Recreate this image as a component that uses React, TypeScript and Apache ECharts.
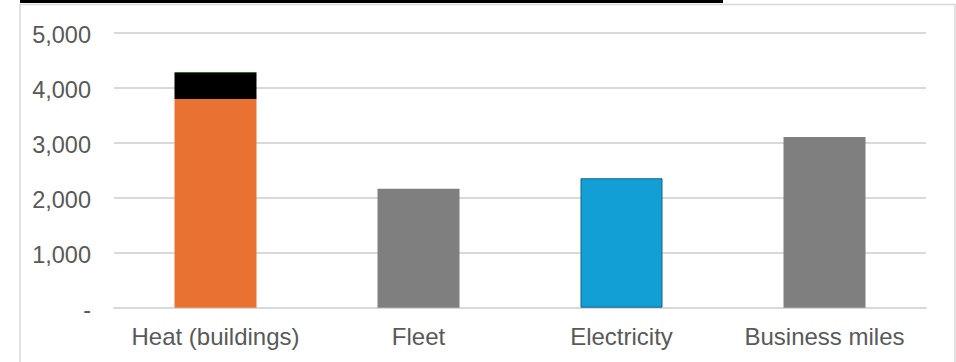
import React, { useEffect, useRef } from "react";
import * as echarts from "echarts";

// Emissions by source (tCO2e)
const categories = ["Heat (buildings)", "Fleet", "Electricity", "Business miles"];
const heatGas = [3790, "-", "-", "-"];
const heatOil = [470, "-", "-", "-"];
const heatOther = [20, "-", "-", "-"];
const otherSources = ["-", 2160, 2350, 3100];
const yTicks = [0, 1000, 2000, 3000, 4000, 5000];

const otherColours = ["#7f7f7f", "#7f7f7f", "#129fd6", "#7f7f7f"];
const otherBorders = ["#7f7f7f", "#7f7f7f", "#13648e", "#7f7f7f"];

const fmt = (v: number) => (v === 0 ? "-" : v.toLocaleString("en-US"));

export default function App() {
  const ref = useRef<HTMLDivElement>(null);

  useEffect(() => {
    if (!ref.current) return;
    const chart = echarts.init(ref.current, null, { renderer: "svg" });
    const font = "'Liberation Sans', Arial, sans-serif";
    chart.setOption({
      animation: false,
      backgroundColor: "#ffffff",
      textStyle: { fontFamily: font },
      grid: { left: 114, right: 30, top: 32.3, bottom: 54.3 },
      graphic: [
        {
          type: "rect",
          shape: { x: 20, y: 4.5, width: 935, height: 370 },
          style: { fill: "none", stroke: "#d9d9d9", lineWidth: 1.5 },
          z: 0,
        },
        {
          type: "rect",
          shape: { x: 20, y: 0, width: 703, height: 3 },
          style: { fill: "#000000" },
          z: 1,
        },
      ],
      xAxis: {
        type: "category",
        data: categories,
        axisTick: { show: false },
        axisLine: { lineStyle: { color: "#d9d9d9", width: 2 } },
        axisLabel: {
          color: "#595959",
          fontSize: 24,
          margin: 17,
          interval: 0,
          fontFamily: font,
        },
      },
      yAxis: {
        type: "value",
        min: yTicks[0],
        max: yTicks[yTicks.length - 1],
        interval: 1000,
        axisLine: { show: false },
        axisTick: { show: false },
        splitLine: { lineStyle: { color: "#d9d9d9", width: 2 } },
        axisLabel: {
          color: "#595959",
          fontSize: 23.5,
          margin: 23,
          fontFamily: font,
          formatter: (v: number) => `{v|${fmt(v)}}`,
          rich: {
            v: {
              color: "#595959",
              fontSize: 23.5,
              fontFamily: font,
              padding: [5, 0, 0, 0],
            },
          },
        },
      },
      series: [
        {
          name: "Gas",
          type: "bar",
          stack: "total",
          barWidth: 82,
          data: heatGas,
          itemStyle: { color: "#e97232" },
        },
        {
          name: "Oil",
          type: "bar",
          stack: "total",
          barWidth: 82,
          data: heatOil,
          itemStyle: { color: "#000000" },
        },
        {
          name: "Other heat",
          type: "bar",
          stack: "total",
          barWidth: 82,
          data: heatOther,
          itemStyle: { color: "#1d7a22" },
        },
        {
          name: "Other sources",
          type: "bar",
          stack: "total",
          barWidth: 82,
          data: otherSources.map((v, i) => ({
            value: v,
            itemStyle: {
              color: otherColours[i],
              borderColor: otherBorders[i],
              borderWidth: i === 2 ? 1 : 0,
            },
          })),
        },
      ],
    });
    return () => chart.dispose();
  }, []);

  return (
    <div
      ref={ref}
      style={{ position: "fixed", left: 0, top: 0, width: 956, height: 362 }}
    />
  );
}
